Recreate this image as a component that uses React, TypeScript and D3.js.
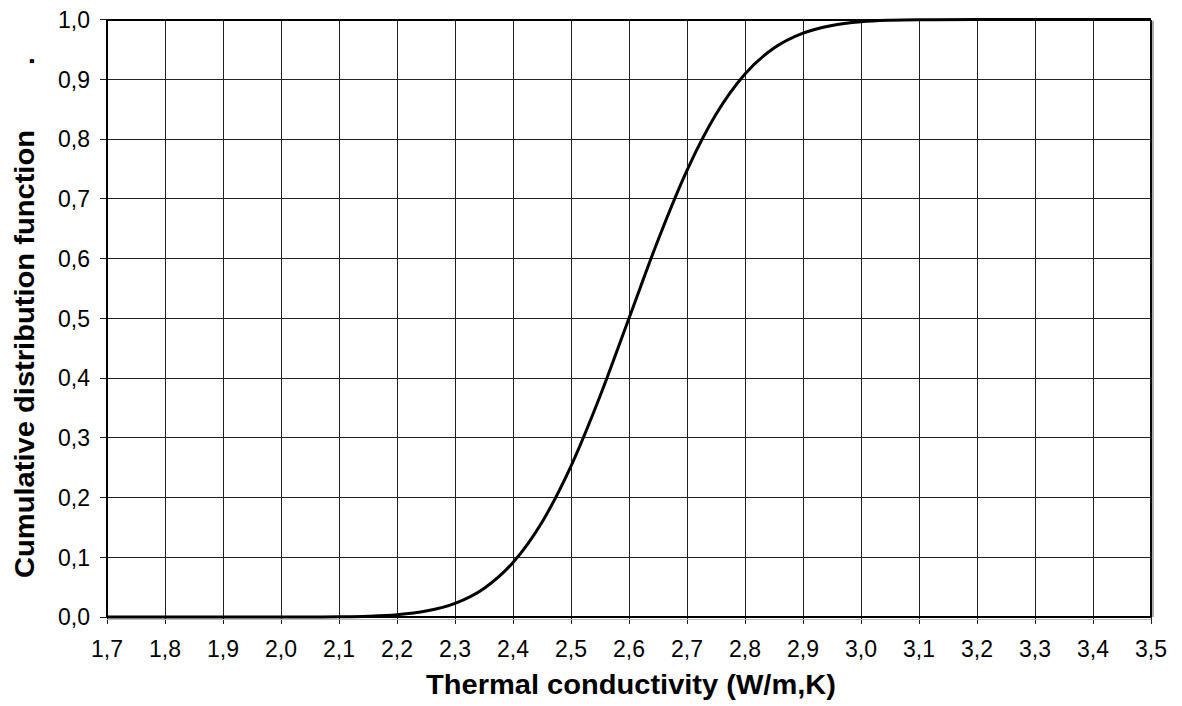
import React from "react";
import * as d3 from "d3";

const xValues = [1.7, 1.8, 1.9, 2.0, 2.05, 2.1, 2.15, 2.2, 2.25, 2.3, 2.35, 2.4, 2.45, 2.5, 2.55, 2.6, 2.65, 2.7, 2.75, 2.8, 2.85, 2.9, 2.95, 3.0, 3.05, 3.1, 3.2, 3.3, 3.4, 3.5];
const cdfValues = [0, 0, 0, 0.00003, 0.0001, 0.0004, 0.0013, 0.0038, 0.0099, 0.0228, 0.0478, 0.0912, 0.1587, 0.2525, 0.3694, 0.5, 0.6306, 0.7475, 0.8413, 0.9088, 0.9522, 0.9772, 0.9901, 0.9962, 0.9987, 0.9996, 1.0, 1.0, 1.0, 1.0];
const xTicks = [1.7, 1.8, 1.9, 2.0, 2.1, 2.2, 2.3, 2.4, 2.5, 2.6, 2.7, 2.8, 2.9, 3.0, 3.1, 3.2, 3.3, 3.4, 3.5];
const yTicks = [0, 0.1, 0.2, 0.3, 0.4, 0.5, 0.6, 0.7, 0.8, 0.9, 1.0];
const xTitle = "Thermal conductivity (W/m,K)";
const yTitle = "Cumulative distribution function";

const W = 1182, H = 706;
const left = 107, right = 1151, top = 19.5, bottom = 617;
const font = "'Liberation Sans', Arial, sans-serif";

export default function App() {
  const x = d3.scaleLinear().domain([1.7, 3.5]).range([left, right]);
  const y = d3.scaleLinear().domain([0, 1]).range([bottom, top]);
  const line = d3.line<number>()
    .x((_, i) => x(xValues[i]))
    .y((d) => y(d))
    .curve(d3.curveMonotoneX);
  const fmt = (v: number) => v.toFixed(1).replace(".", ",");
  return (
    <svg width={W} height={H} style={{ position: "absolute", left: 0, top: 0, background: "#fff" }}>
      <g shapeRendering="crispEdges">
        {xTicks.map((t) => (
          <line key={"gx" + t} x1={x(t)} x2={x(t)} y1={top} y2={bottom + 7} stroke="#222" strokeWidth={1} />
        ))}
        {yTicks.map((t) => (
          <line key={"gy" + t} x1={left - 7} x2={right} y1={y(t)} y2={y(t)} stroke="#222" strokeWidth={1} />
        ))}
        <line x1={right + 2} x2={right + 2} y1={top + 1} y2={bottom} stroke="#aaa" strokeWidth={1.5} />
        <line x1={left} x2={right} y1={bottom + 2} y2={bottom + 2} stroke="#bbb" strokeWidth={1} />
        <line x1={left} x2={right} y1={top} y2={top} stroke="#000" strokeWidth={2} />
        <line x1={right} x2={right} y1={top} y2={bottom} stroke="#000" strokeWidth={1.5} />
        <line x1={left} x2={left} y1={top} y2={bottom} stroke="#000" strokeWidth={2} />
        <line x1={left} x2={right} y1={bottom} y2={bottom} stroke="#000" strokeWidth={2} />
      </g>
      <path d={line(cdfValues) || ""} fill="none" stroke="#000" strokeWidth={3} />
      {yTicks.map((t) => (
        <text key={"ly" + t} x={90} y={y(t)} dy="0.36em" textAnchor="end" fontFamily={font} fontSize={23} fill="#000">
          {fmt(t)}
        </text>
      ))}
      {xTicks.map((t) => (
        <text key={"lx" + t} x={x(t)} y={657} textAnchor="middle" fontFamily={font} fontSize={23} fill="#000">
          {fmt(t)}
        </text>
      ))}
      <text x={426} y={694} textAnchor="start" fontFamily={font} fontSize={27} fontWeight="bold" fill="#000"
        textLength={410} lengthAdjust="spacingAndGlyphs">
        {xTitle}
      </text>
      <text transform="translate(34,578) rotate(-90)" textAnchor="start" fontFamily={font} fontSize={28} fontWeight="bold" fill="#000"
        textLength={448} lengthAdjust="spacingAndGlyphs">
        {yTitle}
      </text>
      <text transform="translate(34,61) rotate(-90)" textAnchor="middle" fontFamily={font} fontSize={28} fontWeight="bold" fill="#000">
        .
      </text>
    </svg>
  );
}
